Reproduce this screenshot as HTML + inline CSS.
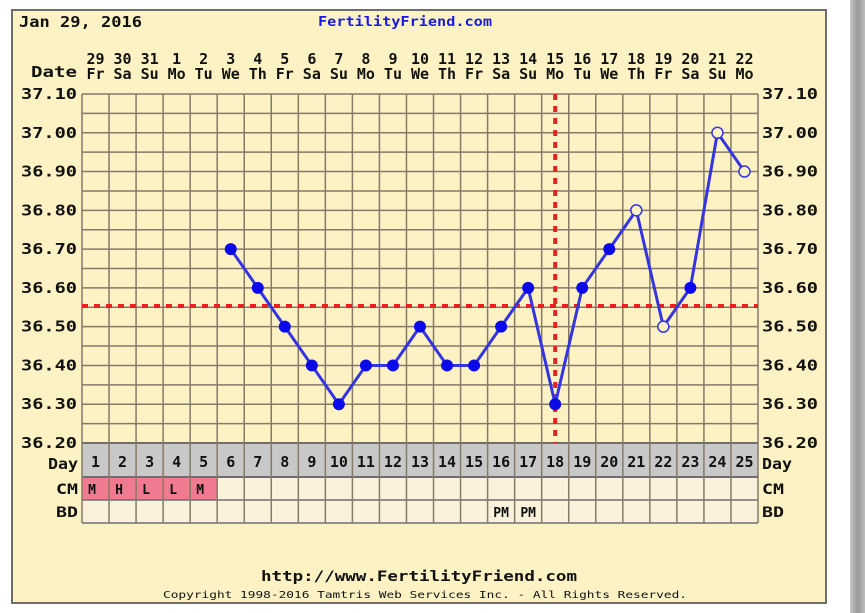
<!DOCTYPE html>
<html><head><meta charset="utf-8"><style>
html,body{margin:0;padding:0;background:#fff;}
svg{display:block;}
text{font-family:"DejaVu Sans Mono","Liberation Mono",monospace;font-weight:bold;fill:#111;}
</style></head><body>
<svg width="865" height="613" viewBox="0 0 865 613" xmlns="http://www.w3.org/2000/svg">
<defs><linearGradient id="sh" x1="0" x2="1"><stop offset="0" stop-color="#c8c8c8"/><stop offset="0.5" stop-color="#999"/><stop offset="1" stop-color="#bbb"/></linearGradient></defs>
<rect x="850" y="0" width="15" height="613" fill="url(#sh)"/>
<rect x="12" y="10" width="814" height="593" fill="#fdf2c4" stroke="#6e6e6e" stroke-width="2"/>
<text x="19" y="27" font-size="15" textLength="123" lengthAdjust="spacingAndGlyphs">Jan 29, 2016</text>
<text x="318" y="26" font-size="13" textLength="174" lengthAdjust="spacingAndGlyphs" style="fill:#1a1adf">FertilityFriend.com</text>
<text x="77" y="77" font-size="15" text-anchor="end" textLength="46" lengthAdjust="spacingAndGlyphs">Date</text>
<g id="g"></g>
<text x="419" y="581" font-size="14" text-anchor="middle" textLength="316" lengthAdjust="spacingAndGlyphs">http://www.FertilityFriend.com</text>
<text x="425" y="598" font-size="10" text-anchor="middle" textLength="524" lengthAdjust="spacingAndGlyphs" style="font-weight:normal">Copyright 1998-2016 Tamtris Web Services Inc. - All Rights Reserved.</text>
</svg>
<script>
const NS="http://www.w3.org/2000/svg",g=document.getElementById('g');
function el(t,a,txt){const e=document.createElementNS(NS,t);for(const k in a)e.setAttribute(k,a[k]);if(txt!==undefined)e.textContent=txt;g.appendChild(e);return e;}
const X0=82,W=27.04,Y0=94,YB=443,N=25;
const cx=i=>X0+(i+0.5)*W, ty=v=>Y0+(37.1-v)/0.1*((YB-Y0)/9);
const L=(x,y,s,txt,anc,len)=>{const a={x:x,y:y,'font-size':s,'text-anchor':anc||'start'};if(len){a.textLength=len;a.lengthAdjust='spacingAndGlyphs';}return el('text',a,txt);};
el('rect',{x:X0,y:443,width:N*W,height:34,fill:'#c8c8c8'});
el('rect',{x:X0,y:477,width:N*W,height:46,fill:'#fcf2dc'});
for(let i=0;i<5;i++)el('rect',{x:X0+i*W,y:477,width:W,height:23,fill:'#f07a90'});
for(let j=0;j<=18;j++){const y=Y0+j*(YB-Y0)/18;el('line',{x1:X0,x2:X0+N*W,y1:y,y2:y,stroke:'#857a68','stroke-width':1.5});}
for(const y of [443,477,500,523])el('line',{x1:X0,x2:X0+N*W,y1:y,y2:y,stroke:'#6e6e6e','stroke-width':(y==443||y==477)?2:1.5});
for(let i=0;i<=N;i++){const x=X0+i*W;el('line',{x1:x,x2:x,y1:Y0,y2:523,stroke:'#857a68','stroke-width':1.5});}
const dates=[29,30,31,1,2,3,4,5,6,7,8,9,10,11,12,13,14,15,16,17,18,19,20,21,22];
const wd=['Fr','Sa','Su','Mo','Tu','We','Th'];
for(let i=0;i<N;i++){L(cx(i),64,15,dates[i],'middle');L(cx(i),79,15,wd[i%7],'middle');L(cx(i),467,15,i+1,'middle');}
for(let k=0;k<=9;k++){const v=(37.1-k*0.1).toFixed(2),y=Y0+k*38.78+5;
L(77,y,15,v,'end',56);L(762,y,15,v,'start',56);}
L(78,469,15,'Day','end',30);L(762,469,15,'Day','start',30);
L(78,494,14,'CM','end',22);L(762,494,14,'CM','start',22);
L(78,517,14,'BD','end',22);L(762,517,14,'BD','start',22);
['M','H','L','L','M'].forEach((c,i)=>L(X0+i*W+10,494,13,c,'middle'));
L(cx(15),517,13,'PM','middle');L(cx(16),517,13,'PM','middle');
el('line',{x1:X0,x2:X0+N*W,y1:306,y2:306,stroke:'#e82020','stroke-width':4,'stroke-dasharray':'6 6'});
el('line',{x1:cx(17),x2:cx(17),y1:Y0,y2:443,stroke:'#e82020','stroke-width':4,'stroke-dasharray':'6 6'});
const d=[[6,36.7],[7,36.6],[8,36.5],[9,36.4],[10,36.3],[11,36.4],[12,36.4],[13,36.5],[14,36.4],[15,36.4],[16,36.5],[17,36.6],[18,36.3],[19,36.6],[20,36.7],[21,36.8,1],[22,36.5,1],[23,36.6],[24,37.0,1],[25,36.9,1]];
el('polyline',{points:d.map(p=>cx(p[0]-1)+','+ty(p[1])).join(' '),fill:'none',stroke:'#3535e0','stroke-width':3});
d.forEach(p=>{if(p[2])el('circle',{cx:cx(p[0]-1),cy:ty(p[1]),r:5.5,fill:'#fdf2c4',stroke:'#3535e0','stroke-width':1.5});else el('circle',{cx:cx(p[0]-1),cy:ty(p[1]),r:6,fill:'#0a0ae8'});});
</script>
</body></html>
